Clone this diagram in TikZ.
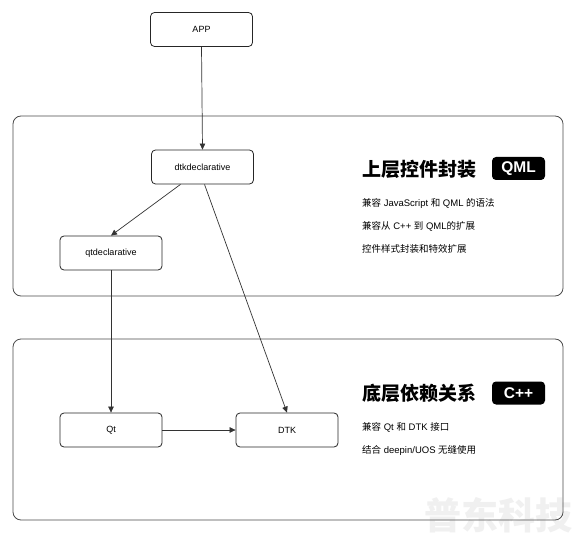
\documentclass[tikz,border=0pt]{standalone}
\usepackage{fontspec}
\setmainfont{Liberation Sans}
\newfontfamily\cjk{Noto Sans CJK SC}
\usetikzlibrary{arrows.meta}
\begin{document}
\begin{tikzpicture}[x=1pt,y=-1pt,
  box/.style={draw=black!85,line width=0.8pt,rounded corners=4pt,minimum width=102pt,minimum height=34pt,font=\fontsize{9}{10}\selectfont,inner sep=0pt},
  panel/.style={draw=black!70,line width=0.8pt,rounded corners=8pt},
  conn/.style={draw=black!80,line width=0.7pt,-{Triangle[length=6pt,width=5.5pt]}},
  title/.style={anchor=west,font=\cjk\bfseries\fontsize{19}{20}\selectfont,inner sep=0pt},
  badge/.style={fill=black,text=white,rounded corners=4pt,minimum width=53pt,minimum height=23pt,inner sep=0pt,font=\bfseries\fontsize{15.5}{16}\selectfont},
  txt/.style={anchor=west,inner sep=0pt,font=\fontsize{9.5}{11}\selectfont}]
\useasboundingbox (0,0) rectangle (577,534);
\fill[white] (0,0) rectangle (577,534);
% watermark
\node[font=\cjk\bfseries\fontsize{37}{38}\selectfont,text=black!6,inner sep=0pt] (wm) at (498,515) {普东科技};
% panels
\draw[panel] (13,116) rectangle (563,296);
\draw[panel] (13,339) rectangle (563,520);
% nodes
\node[box] (app) at (201.5,29.5) {APP};
\node[box] (dtkd) at (202.5,167) {dtkdeclarative};
\node[box] (qtd) at (111,253) {qtdeclarative};
\node[box] (qt) at (111,430) {Qt};
\node[box] (dtk) at (287,430) {DTK};
% connectors
\draw[conn] (app.south) -- (dtkd.north);
\draw[conn] ([xshift=-22pt]dtkd.south) -- (qtd.north);
\draw[conn] ([xshift=2pt]dtkd.south) -- (dtk.north);
\draw[conn] (qtd.south) -- (qt.north);
\draw[conn] (qt.east) -- (dtk.west);
% upper text
\node[title] (t1) at (362,169) {上层控件封装};
\node[badge] (b1) at (518.5,168.5) {QML};
\node[txt] (l1) at (362,203) {{\cjk 兼容} JavaScript {\cjk 和} QML {\cjk 的语法}};
\node[txt] (l2) at (362,226) {{\cjk 兼容从} C++ {\cjk 到} QML{\cjk 的扩展}};
\node[txt] (l3) at (362,249) {{\cjk 控件样式封装和特效扩展}};
% lower text
\node[title] (t2) at (362,393) {底层依赖关系};
\node[badge] (b2) at (518.5,393) {C++};
\node[txt] (l4) at (362,427) {{\cjk 兼容} Qt {\cjk 和} DTK {\cjk 接口}};
\node[txt] (l5) at (362,450) {{\cjk 结合} deepin/UOS {\cjk 无缝使用}};
\end{tikzpicture}
\end{document}
